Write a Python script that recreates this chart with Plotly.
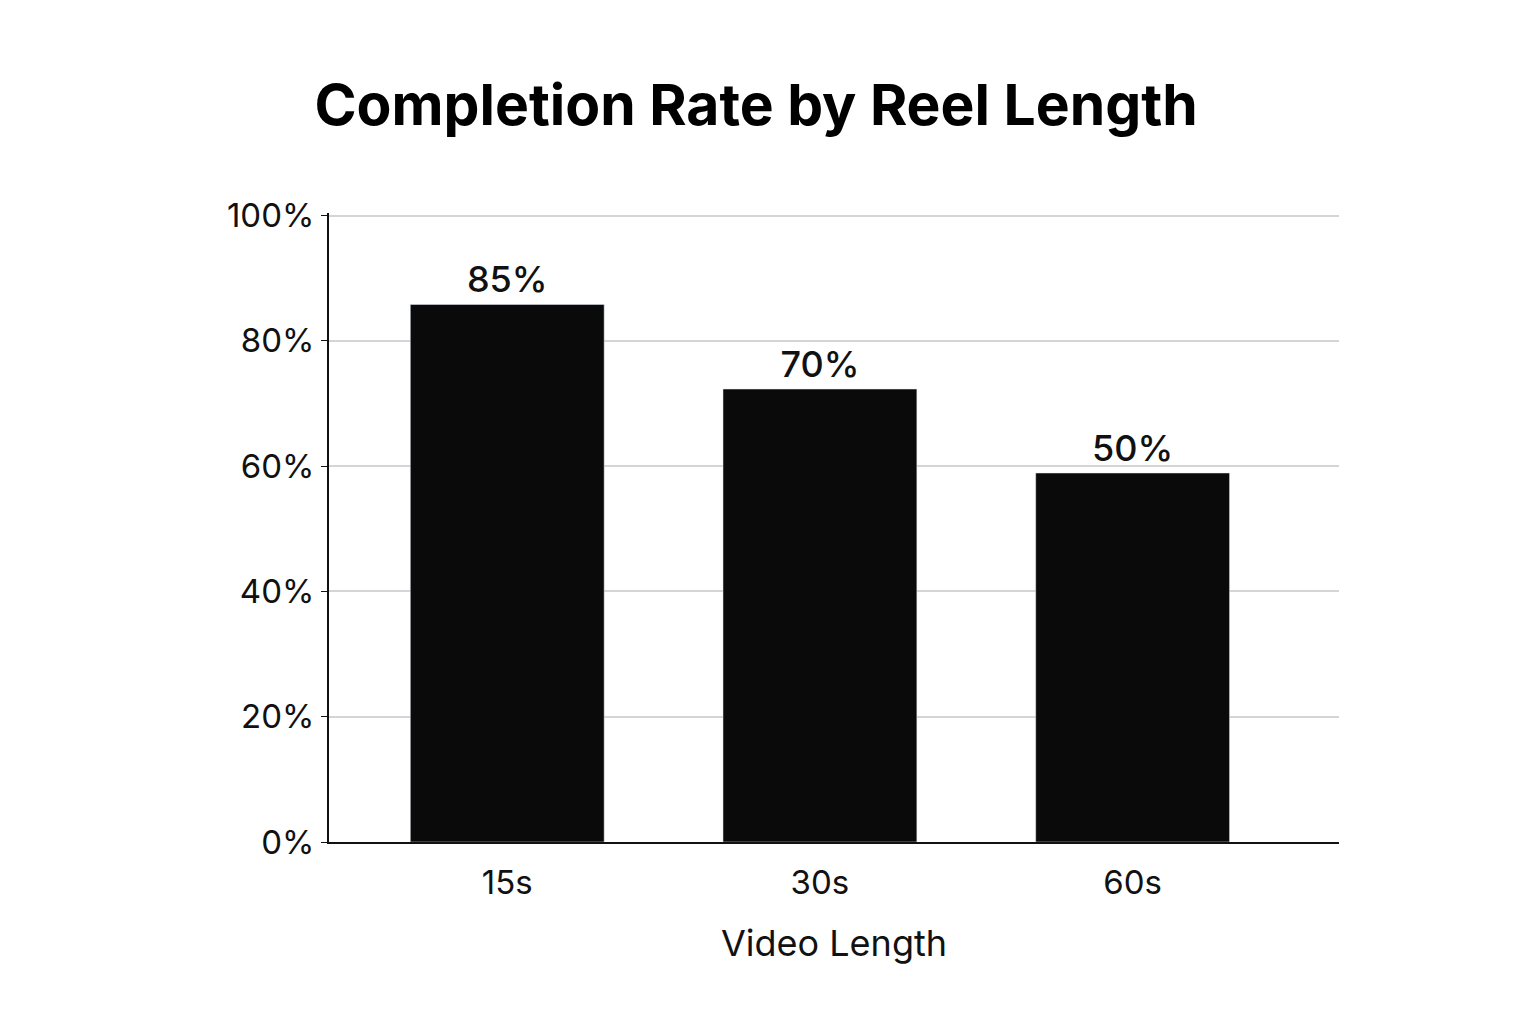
import plotly.graph_objects as go

categories = ["15s", "30s", "60s"]
bar_heights = [85.8, 72.3, 58.9]
bar_labels = ["85%", "70%", "50%"]
tick_vals = [0, 20, 40, 60, 80, 100]
tick_text = ["0%", "20%", "40%", "60%", "80%", "100%"]

fig = go.Figure(go.Bar(
    x=list(range(len(categories))), y=bar_heights,
    text=bar_labels, textposition="outside",
    textfont=dict(size=36, color="#111", weight=500),
    marker=dict(color="#0a0a0a"),
    width=0.62, cliponaxis=False,
))

fig.update_layout(
    width=1536, height=1024,
    paper_bgcolor="white", plot_bgcolor="white",
    font=dict(family="Inter, Roboto, sans-serif", color="#111"),
    title=dict(text="<b>Completion Rate by Reel Length</b>", x=0.487, xanchor="center",
               y=0.905, yanchor="middle", font=dict(size=57, color="#000")),
    margin=dict(l=321, r=205, t=205, b=190),
    showlegend=False,
)
fig.update_xaxes(
    range=[-0.57, 2.66], tickvals=list(range(len(categories))), ticktext=categories,
    showline=True, linecolor="#111", linewidth=2, ticks="outside", ticklen=10,
    tickcolor="rgba(0,0,0,0)", showgrid=False,
    tickfont=dict(size=33), title=dict(text="Video Length", font=dict(size=36), standoff=30),
)
fig.update_yaxes(
    range=[0, 100.4], tickvals=tick_vals, ticktext=tick_text,
    showline=True, linecolor="#111", linewidth=2, ticks="outside", ticklen=6,
    tickcolor="#111", gridcolor="#d5d5d5", gridwidth=1.5,
    tickfont=dict(size=33), zeroline=False,
)

fig.write_html("out.html")
